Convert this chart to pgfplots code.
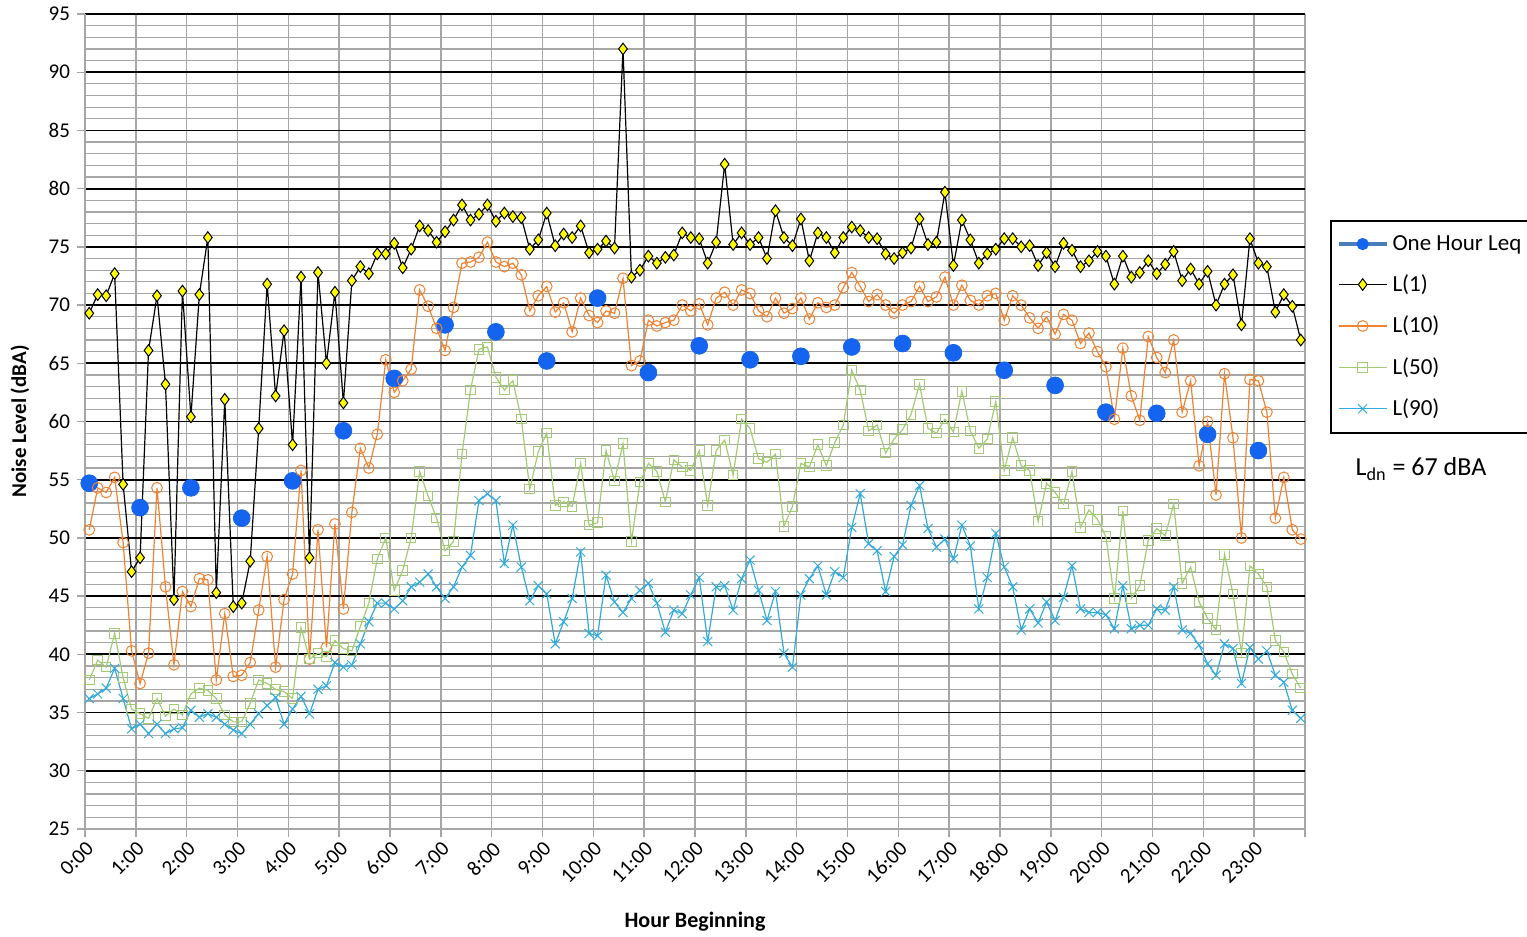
\documentclass[border=0pt]{standalone}
\usepackage{fontspec}
\setmainfont{Carlito}
\usepackage{pgfplots}
\usepackage{pgfplotstable}
\pgfplotsset{compat=1.18}
\definecolor{lyellow}{HTML}{FFFF00}
\definecolor{lorange}{HTML}{F08232}
\definecolor{lgreen}{HTML}{A2CB74}
\definecolor{lcyan}{HTML}{32AADC}
\definecolor{leqblue}{HTML}{1464F0}
\definecolor{legline}{HTML}{4A7EBB}
\definecolor{gridgray}{HTML}{A6A6A6}

\pgfplotstableread{
i L1 L10 L50 L90
0 69.3 50.7 37.8 36.2
1 70.9 54.3 39.5 36.6
2 70.8 53.9 38.9 37.1
3 72.7 55.2 41.8 38.8
4 54.6 49.6 38.0 36.2
5 47.1 40.3 35.3 33.6
6 48.3 37.5 34.9 34.0
7 66.1 40.1 34.5 33.2
8 70.8 54.3 36.2 34.0
9 63.2 45.8 34.7 33.2
10 44.7 39.1 35.3 33.6
11 71.2 45.4 34.8 33.7
12 60.4 44.1 36.6 35.2
13 70.9 46.5 37.1 34.6
14 75.8 46.4 36.9 34.9
15 45.3 37.8 36.2 34.6
16 61.9 43.5 34.8 34.0
17 44.1 38.1 34.2 33.5
18 44.4 38.2 34.2 33.2
19 48.0 39.3 35.8 34.0
20 59.4 43.8 37.8 34.9
21 71.8 48.4 37.5 35.6
22 62.2 38.9 37.0 36.3
23 67.8 44.7 36.8 34.0
24 58.0 46.9 36.2 35.3
25 72.4 55.8 42.3 36.4
26 48.3 39.6 39.6 34.9
27 72.8 50.7 40.1 37.0
28 65.0 40.6 39.8 37.3
29 71.1 51.2 41.2 39.3
30 61.6 43.9 40.5 38.9
31 72.1 52.2 40.3 39.1
32 73.3 57.7 42.4 40.9
33 72.7 56.0 44.4 42.8
34 74.4 58.9 48.2 44.4
35 74.4 65.3 50.0 44.4
36 75.3 62.5 45.5 43.9
37 73.2 63.5 47.2 44.6
38 74.8 64.5 50.0 45.8
39 76.8 71.3 55.7 46.2
40 76.4 69.9 53.6 46.9
41 75.4 68.0 51.7 45.8
42 76.3 66.1 48.9 44.8
43 77.3 69.8 49.7 45.8
44 78.6 73.6 57.2 47.5
45 77.3 73.7 62.7 48.5
46 77.8 74.1 66.2 53.2
47 78.6 75.4 66.4 53.8
48 77.2 73.7 63.8 53.2
49 77.9 73.3 62.7 47.8
50 77.6 73.6 63.5 51.1
51 77.5 72.6 60.2 47.5
52 74.8 69.5 54.2 44.6
53 75.6 70.8 57.4 45.9
54 77.9 71.6 59.0 45.2
55 75.1 69.4 52.8 40.9
56 76.1 70.2 53.1 42.8
57 75.8 67.7 52.7 44.8
58 76.8 70.6 56.4 48.8
59 74.5 69.1 51.1 41.8
60 74.8 68.5 51.3 41.6
61 75.5 69.5 57.5 46.8
62 74.9 69.3 54.9 44.5
63 92.0 72.3 58.1 43.6
64 72.4 64.8 49.7 44.8
65 73.0 65.2 54.8 45.5
66 74.2 68.7 56.4 46.1
67 73.6 68.2 55.7 44.4
68 74.1 68.5 53.1 41.9
69 74.3 68.7 56.7 43.8
70 76.2 70.0 56.1 43.5
71 75.8 69.5 55.8 45.1
72 75.7 70.1 57.5 46.6
73 73.6 68.3 52.8 41.1
74 75.4 70.6 57.5 45.8
75 82.1 71.1 58.4 45.9
76 75.2 70.0 55.4 43.8
77 76.2 71.3 60.2 46.5
78 75.2 71.0 59.4 48.1
79 75.8 69.5 56.8 45.5
80 74.0 69.0 56.5 42.9
81 78.1 70.6 57.2 45.4
82 75.8 69.3 51.0 40.1
83 75.1 69.7 52.7 38.9
84 77.4 70.6 56.4 45.1
85 73.8 68.8 56.1 46.5
86 76.2 70.2 58.0 47.6
87 75.8 69.8 56.2 45.1
88 74.5 70.0 58.2 47.1
89 75.8 71.5 59.7 46.6
90 76.7 72.8 64.4 50.9
91 76.4 71.6 62.7 53.8
92 75.8 70.3 59.2 49.5
93 75.7 70.9 59.7 48.9
94 74.4 70.0 57.3 45.4
95 74.0 69.3 58.5 48.4
96 74.5 70.0 59.3 49.4
97 74.9 70.3 60.6 52.8
98 77.4 71.6 63.2 54.5
99 75.2 70.3 59.4 50.8
100 75.4 70.7 59.0 49.2
101 79.7 72.4 60.2 49.9
102 73.4 70.0 59.1 48.2
103 77.3 71.7 62.6 51.1
104 75.6 70.4 59.2 49.3
105 73.6 70.0 57.7 43.9
106 74.4 70.8 58.5 46.6
107 74.8 71.0 61.7 50.4
108 75.7 68.7 55.8 47.5
109 75.7 70.8 58.6 45.8
110 75.0 70.0 56.2 42.1
111 75.1 68.9 55.8 43.9
112 73.4 68.0 51.4 42.7
113 74.5 69.0 54.7 44.5
114 73.3 67.5 53.9 42.9
115 75.3 69.2 52.9 44.9
116 74.7 68.7 55.7 47.6
117 73.3 66.7 50.9 43.9
118 73.8 67.6 52.4 43.6
119 74.6 66.0 51.6 43.6
120 74.2 64.7 50.1 43.4
121 71.8 60.2 44.8 42.2
122 74.2 66.3 52.3 45.9
123 72.4 62.2 44.8 42.2
124 72.8 60.1 45.9 42.5
125 73.8 67.3 49.8 42.5
126 72.7 65.5 50.8 43.9
127 73.5 64.2 50.2 43.8
128 74.6 67.0 52.9 45.8
129 72.1 60.8 46.1 42.1
130 73.1 63.5 47.5 41.8
131 71.8 56.2 44.5 40.8
132 72.9 60.0 43.1 39.2
133 70.0 53.7 42.1 38.2
134 71.8 64.1 48.6 40.9
135 72.6 58.6 45.2 40.5
136 68.3 50.0 40.1 37.5
137 75.7 63.6 47.6 40.6
138 73.6 63.5 46.9 39.6
139 73.3 60.8 45.8 40.3
140 69.4 51.7 41.2 38.2
141 70.9 55.2 40.2 37.6
142 69.9 50.7 38.3 35.2
143 67.0 49.9 37.1 34.5
}\noisedata

\pgfplotstableread{
h leq
0 54.7
1 52.6
2 54.3
3 51.7
4 54.9
5 59.2
6 63.7
7 68.3
8 67.7
9 65.2
10 70.6
11 64.2
12 66.5
13 65.3
14 65.6
15 66.4
16 66.7
17 65.9
18 64.4
19 63.1
20 60.8
21 60.7
22 58.9
23 57.5
}\leqdata

\begin{document}
\begin{tikzpicture}
\useasboundingbox (-42.5pt,-54pt) rectangle (721pt,414.5pt);
\begin{axis}[
  at={(0,0)}, anchor=south west,
  scale only axis, width=610pt, height=407.5pt,
  xmin=0, xmax=144, ymin=25, ymax=95,
  axis x line*=bottom, axis y line*=left,
  axis line style={-, gridgray, line width=0.7pt},
  xtick={0,6,...,144},
  xticklabels={0:00,1:00,2:00,3:00,4:00,5:00,6:00,7:00,8:00,9:00,10:00,11:00,12:00,13:00,14:00,15:00,16:00,17:00,18:00,19:00,20:00,21:00,22:00,23:00,{}},
  ytick={25,30,...,95},
  minor y tick num=4,
  xmajorgrids, ymajorgrids, yminorgrids,
  major x grid style={gridgray, line width=0.7pt},
  major y grid style={black, line width=0.9pt},
  minor y grid style={gridgray, line width=0.6pt},
  tick style={gridgray, line width=0.7pt},
  tick align=outside, major tick length=4pt, minor tick length=0pt,
  /pgf/number format/assume math mode=true,
  tick label style={font=\fontsize{10.5}{12}\selectfont, text=black},
  xticklabel style={rotate=45, anchor=north east, inner sep=1pt},
  xlabel={Hour Beginning},
  ylabel={Noise Level (dBA)},
  xlabel style={font=\bfseries\fontsize{11}{13}\selectfont, at={(axis description cs:0.5,0)}, anchor=center, yshift=-46.5pt},
  ylabel style={font=\bfseries\fontsize{10.5}{12}\selectfont, at={(axis description cs:0,0.5)}, anchor=center, yshift=32.5pt},
  legend style={at={(1.0205,0.747)}, anchor=north west, draw=black, line width=0.9pt,
    font=\fontsize{11.5}{13}\selectfont, row sep=6.8pt, inner xsep=3pt, inner ysep=5pt,
    cells={anchor=west}},
  legend image code/.code={\draw[mark repeat=2,mark phase=2,#1] plot coordinates {(0pt,0pt) (12pt,0pt) (24pt,0pt)};},
]
\addplot[only marks, mark=*, mark size=4.2pt, color=leqblue,
  legend image code/.code={\draw[legline, line width=1.8pt] (0pt,0pt) -- (24pt,0pt); \fill[leqblue] (12pt,0pt) circle (2.6pt);}]
  table[x expr=6*\thisrow{h}+0.5, y=leq] {\leqdata};
\addlegendentry{One Hour Leq}
\addplot[black, line width=0.6pt, mark=diamond*, mark size=2.9pt,
  mark options={solid, fill=lyellow, draw=black, line width=0.5pt}]
  table[x expr=\thisrow{i}+0.5, y=L1] {\noisedata};
\addlegendentry{L(1)}
\addplot[lorange, line width=0.6pt, mark=o, mark size=2.7pt,
  mark options={solid, line width=0.5pt}]
  table[x expr=\thisrow{i}+0.5, y=L10] {\noisedata};
\addlegendentry{L(10)}
\addplot[lgreen, line width=0.6pt, mark=square, mark size=2.4pt,
  mark options={solid, line width=0.5pt}]
  table[x expr=\thisrow{i}+0.5, y=L50] {\noisedata};
\addlegendentry{L(50)}
\addplot[lcyan, line width=0.6pt, mark=x, mark size=3.2pt,
  mark options={solid, line width=0.5pt}]
  table[x expr=\thisrow{i}+0.5, y=L90] {\noisedata};
\addlegendentry{L(90)}
\end{axis}
\node[font=\fontsize{13}{15}\selectfont] at (668pt,180pt) {L\textsubscript{dn} = 67 dBA};
\end{tikzpicture}
\end{document}
